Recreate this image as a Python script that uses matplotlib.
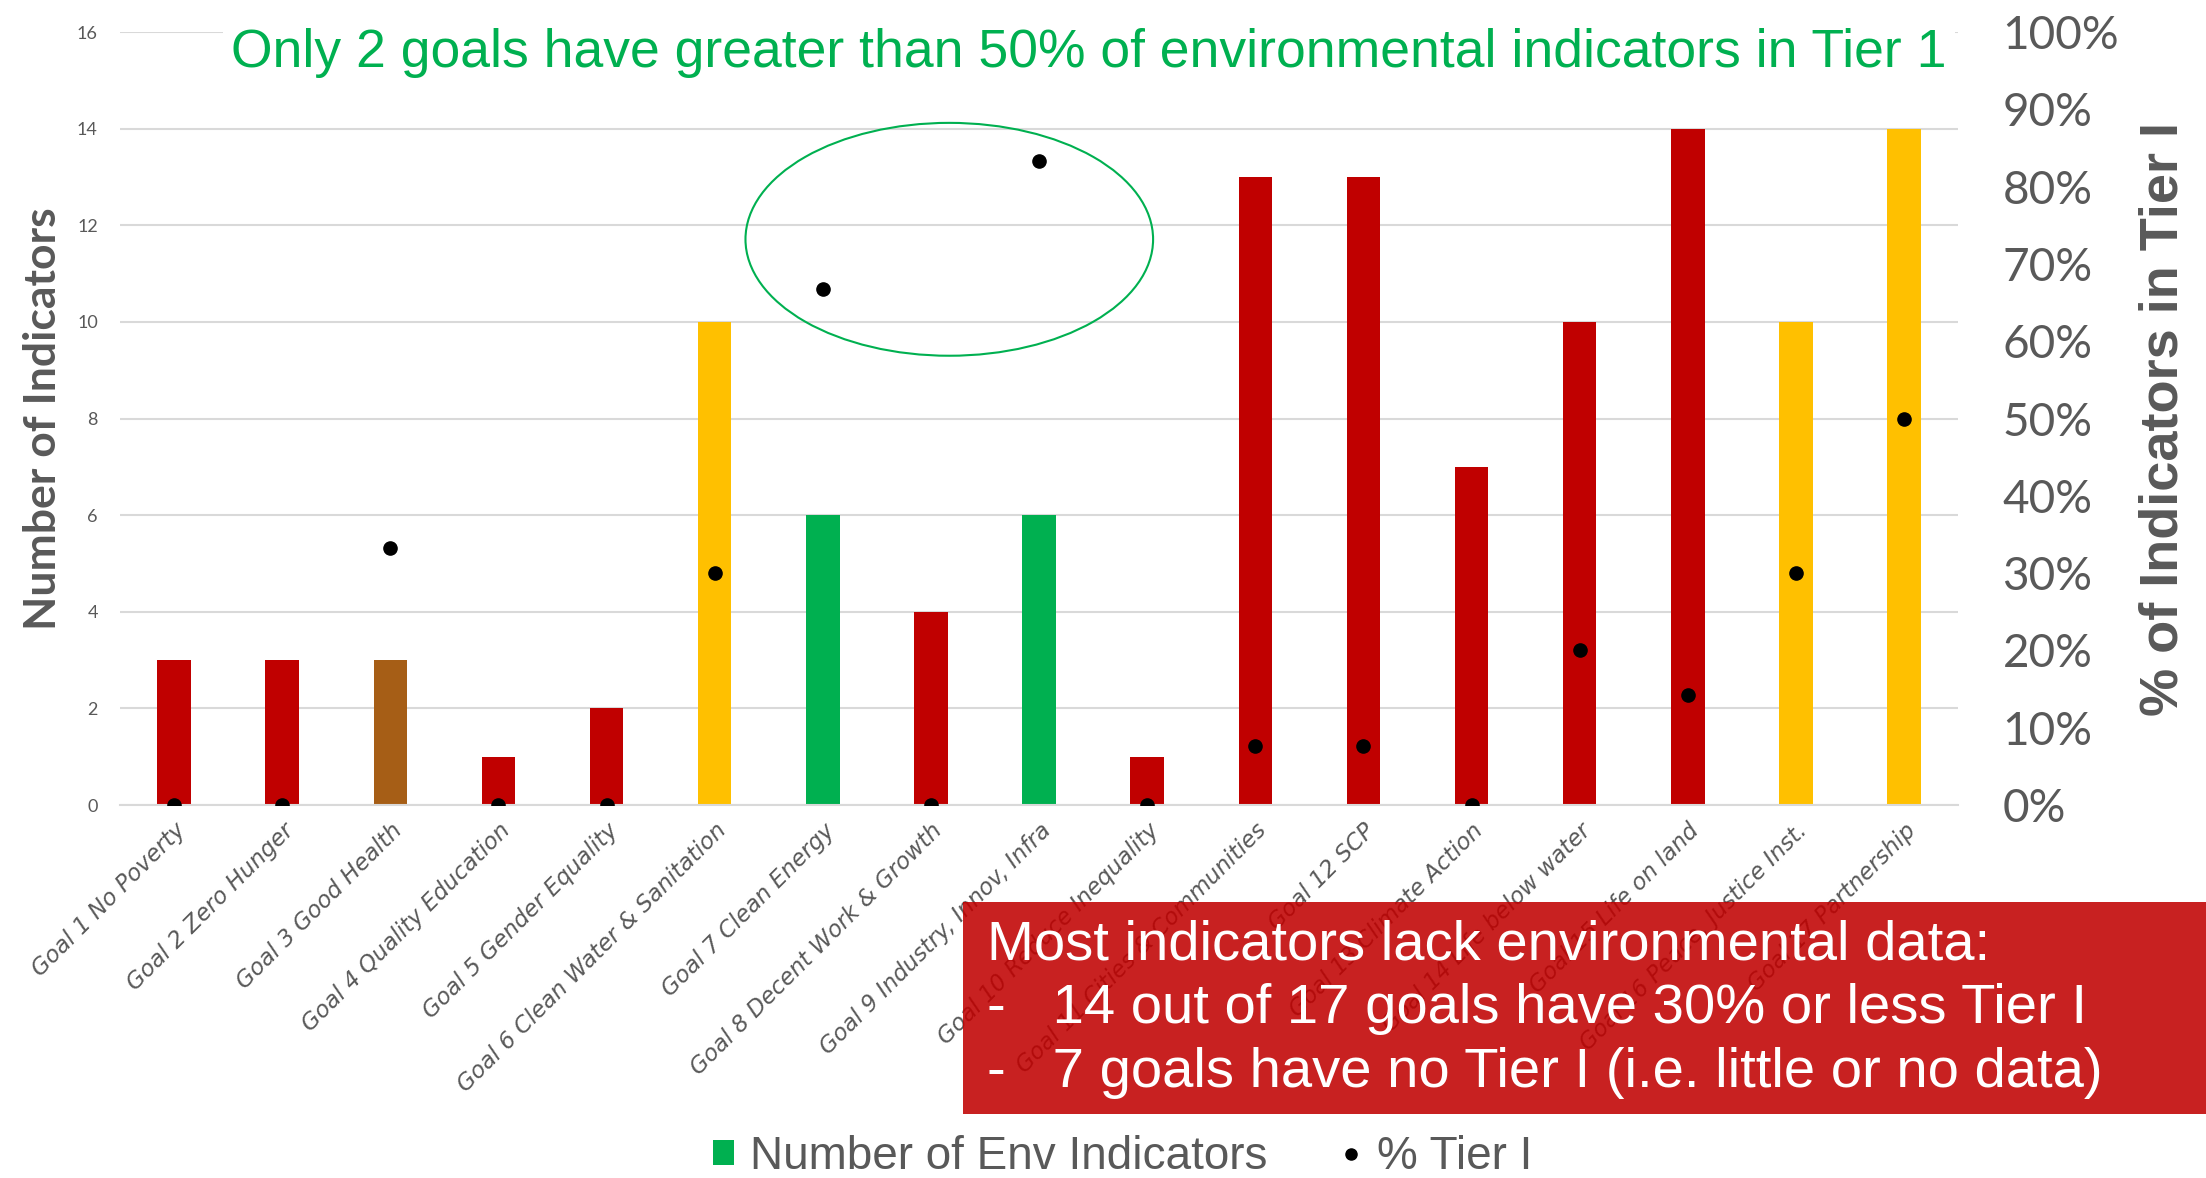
import numpy as np
import matplotlib
matplotlib.use("Agg")
import matplotlib.pyplot as plt
from matplotlib.patches import Ellipse, Rectangle, Patch
from matplotlib.lines import Line2D

goals = [
    "Goal 1 No Poverty", "Goal 2 Zero Hunger", "Goal 3 Good Health",
    "Goal 4 Quality Education", "Goal 5 Gender Equality",
    "Goal 6 Clean Water & Sanitation", "Goal 7 Clean Energy",
    "Goal 8 Decent Work & Growth", "Goal 9 Industry, Innov, Infra",
    "Goal 10 Reduce Inequality", "Goal 11 Cities & Communities",
    "Goal 12 SCP", "Goal 13 Climate Action", "Goal 14 Life below water",
    "Goal 15 Life on land", "Goal 16 Peace, Justice Inst.",
    "Goal 17 Partnership",
]
n_env = [3, 3, 3, 1, 2, 10, 6, 4, 6, 1, 13, 13, 7, 10, 14, 10, 14]
pct_tier1 = [0, 0, 33.3, 0, 0, 30, 66.7, 0, 83.3, 0, 7.7, 7.7, 0, 20, 14.3, 30, 50]
bar_colors = ["#C00000", "#C00000", "#A65E16", "#C00000", "#C00000",
              "#FFC000", "#00B050", "#C00000", "#00B050", "#C00000",
              "#C00000", "#C00000", "#C00000", "#C00000", "#C00000",
              "#FFC000", "#FFC000"]

GRAY = "#595959"
FONT = ["Lato", "DejaVu Sans"]
ARIAL = ["Liberation Sans", "DejaVu Sans"]
plt.rcParams["font.family"] = FONT

fig = plt.figure(figsize=(22.06, 11.78), dpi=100)
ax = fig.add_axes([0.0544, 0.3166, 0.8332, 0.6562])
x = np.arange(len(goals))

ax.bar(x, n_env, width=0.31, color=bar_colors, zorder=2)
ax.set_xlim(-0.5, len(goals) - 0.5)
ax.set_ylim(0, 16)
ax.set_yticks(np.arange(0, 17, 2))
ax.tick_params(axis="y", length=0, labelsize=13, labelcolor=GRAY, pad=16)
ax.tick_params(axis="x", length=0, pad=10)
ax.set_xticks(x)
ax.set_xticklabels(goals, rotation=45, ha="right", rotation_mode="anchor",
                   fontsize=16.5, color=GRAY, style="italic",
                   family=["DejaVu Sans"])
ax.grid(axis="y", color="#D9D9D9", linewidth=1.5, zorder=0)
ax.set_axisbelow(True)
for s in ["top", "left", "right"]:
    ax.spines[s].set_visible(False)
ax.spines["bottom"].set_color("#D9D9D9")
ax.spines["bottom"].set_linewidth(1.5)
ax.set_ylabel("Number of Indicators", fontsize=32, fontweight="bold",
              color=GRAY, labelpad=10)

ax2 = ax.twinx()
ax2.plot(x, pct_tier1, "o", color="black", markersize=9.5, zorder=5)
ax2.set_ylim(0, 100)
ax2.set_yticks(np.arange(0, 101, 10))
ax2.set_yticklabels([f"{v}%" for v in range(0, 101, 10)])
ax2.tick_params(axis="y", length=0, labelsize=33, labelcolor=GRAY, pad=32)
for s in ax2.spines.values():
    s.set_visible(False)
ax2.set_ylabel("% of Indicators in Tier I", fontsize=39, fontweight="bold",
               color=GRAY, family=ARIAL, labelpad=14)

# highlight of the two goals above 50%
ax.add_patch(Ellipse((7.17, 11.71), 3.77, 4.82, fill=False,
                     edgecolor="#00B050", linewidth=1.5, zorder=6))

fig.text(0.4937, 0.955, "Only 2 goals have greater than 50% of environmental indicators in Tier 1",
         ha="center", va="center", fontsize=38.5, color="#00B050",
         family=ARIAL, bbox=dict(facecolor="white", edgecolor="none", pad=6))

# red callout box, slightly see-through like the original
fig.patches.append(Rectangle((963 / 2206, 1 - 1114 / 1178), 1 - 963 / 2206,
                             212 / 1178, transform=fig.transFigure,
                             facecolor="#C00000", alpha=0.87, edgecolor="none",
                             zorder=10))
lines = ["Most indicators lack environmental data:",
         "-   14 out of 17 goals have 30% or less Tier I",
         "-   7 goals have no Tier I (i.e. little or no data)"]
for i, t in enumerate(lines):
    fig.text(987 / 2206, 1 - (945 + 64 * i) / 1178, t, ha="left", va="center",
             fontsize=40.5, color="white", family=ARIAL, zorder=11)

handles = [Patch(facecolor="#00B050"),
           Line2D([], [], marker="o", linestyle="none", color="black", markersize=8)]
fig.legend(handles, ["Number of Env Indicators", "% Tier I"],
           loc="center", bbox_to_anchor=(0.509, 0.018), ncol=2, frameon=False,
           labelcolor=GRAY, handlelength=0.45, handleheight=0.45,
           handletextpad=0.35, columnspacing=1.6,
           prop={"family": ARIAL, "size": 33})

fig.savefig("out.png", dpi=100)
